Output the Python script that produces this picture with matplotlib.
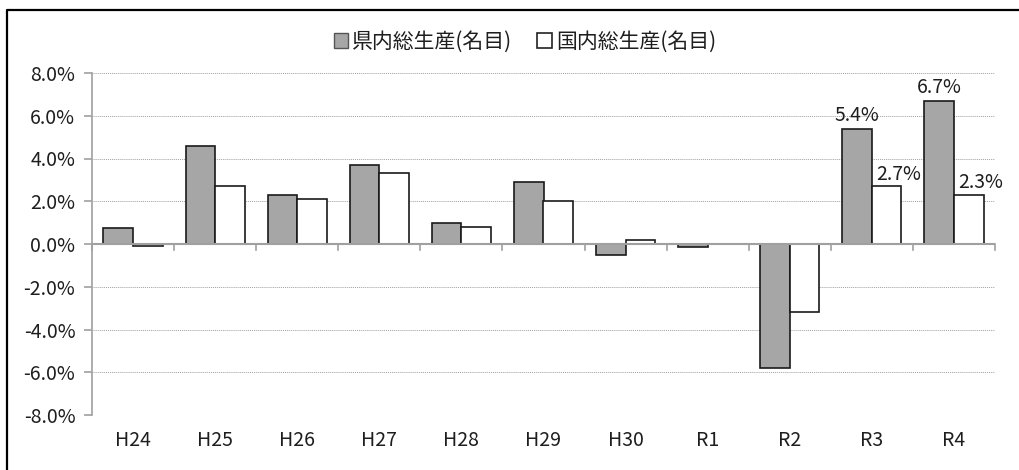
import matplotlib
matplotlib.use("Agg")
import matplotlib.pyplot as plt
from matplotlib.lines import Line2D
from matplotlib.patches import Patch
import numpy as np

plt.rcParams['font.family'] = ['Noto Sans CJK JP', 'DejaVu Sans']

categories = ["H24", "H25", "H26", "H27", "H28", "H29", "H30", "R1", "R2", "R3", "R4"]
prefecture = [0.75, 4.6, 2.3, 3.7, 1.0, 2.9, -0.5, -0.15, -5.8, 5.4, 6.7]
national = [-0.1, 2.7, 2.1, 3.3, 0.8, 2.0, 0.2, 0.0, -3.2, 2.7, 2.3]
series_names = ["県内総生産(名目)", "国内総生産(名目)"]
labeled = ["R3", "R4"]
yticks = [-8, -6, -4, -2, 0, 2, 4, 6, 8]

fig = plt.figure(figsize=(10.2, 4.7), dpi=100)
ax = fig.add_axes([92 / 1020, 1 - 415 / 470, (995 - 92) / 1020, (415 - 73) / 470])

x = np.arange(len(categories))
w = 0.36
edge = "#1a1a1a"
ax.bar(x - w / 2, prefecture, w, color="#a6a6a6", edgecolor=edge, linewidth=1.2, zorder=3)
ax.bar(x + w / 2, national, w, color="white", edgecolor=edge, linewidth=1.2, zorder=3)

txt = "#1e1e1e"
for c in labeled:
    i = categories.index(c)
    ax.text(i - w / 2, prefecture[i] + 0.12, f"{prefecture[i]:.1f}%", ha="center", va="bottom",
            fontsize=14, color=txt, zorder=5)
    ax.text(i + w / 2 + 0.15, national[i] + 0.08, f"{national[i]:.1f}%", ha="center", va="bottom",
            fontsize=14, color=txt, zorder=5)

ax.set_xlim(-0.5, len(categories) - 0.5)
ax.set_ylim(-8, 8)
ax.set_yticks(yticks)
ax.set_yticklabels([f"{v:.1f}%" for v in yticks], fontsize=14)

# dotted gridlines
for v in yticks:
    if v != 0:
        ax.axhline(v, color="#a0a0a0", linewidth=0.7, linestyle=(0, (1, 1)), zorder=1)

for s in ["top", "right", "bottom"]:
    ax.spines[s].set_visible(False)
ax.spines["left"].set_color("#a0a0a0")
ax.spines["left"].set_linewidth(1.2)
ax.tick_params(axis="y", direction="out", length=6, color="#a0a0a0", width=1.2, pad=6, labelcolor=txt)

# zero-line category axis (drawn over the bars) with tick marks between categories
ax.axhline(0, color="#a0a0a0", linewidth=1.5, zorder=4)
ax.set_xticks([])
for b in np.arange(-0.5, len(categories), 1.0):
    ax.plot([b, b], [0, -0.3], color="#a0a0a0", linewidth=1.2, zorder=4, clip_on=False)
for i, c in enumerate(categories):
    ax.text(i, -9.2, c, ha="center", va="center", fontsize=14, color=txt)

handles = [Patch(facecolor="#a6a6a6", edgecolor="#555555", linewidth=1.0),
           Patch(facecolor="white", edgecolor="#222222", linewidth=1.2)]
fig.legend(handles, series_names, loc="center", bbox_to_anchor=(525 / 1020, 1 - 42 / 470), ncol=2,
           frameon=False, fontsize=15, handlelength=0.7, handleheight=0.7, handletextpad=0.2,
           columnspacing=1.2, labelcolor=txt)

# chart border (left and top edges visible)
fig.add_artist(Line2D([7 / 1020, 7 / 1020, 1.2], [-0.2, 1 - 10 / 470, 1 - 10 / 470],
                      transform=fig.transFigure, color="black", linewidth=1.6))

fig.savefig("out.png", dpi=100)
